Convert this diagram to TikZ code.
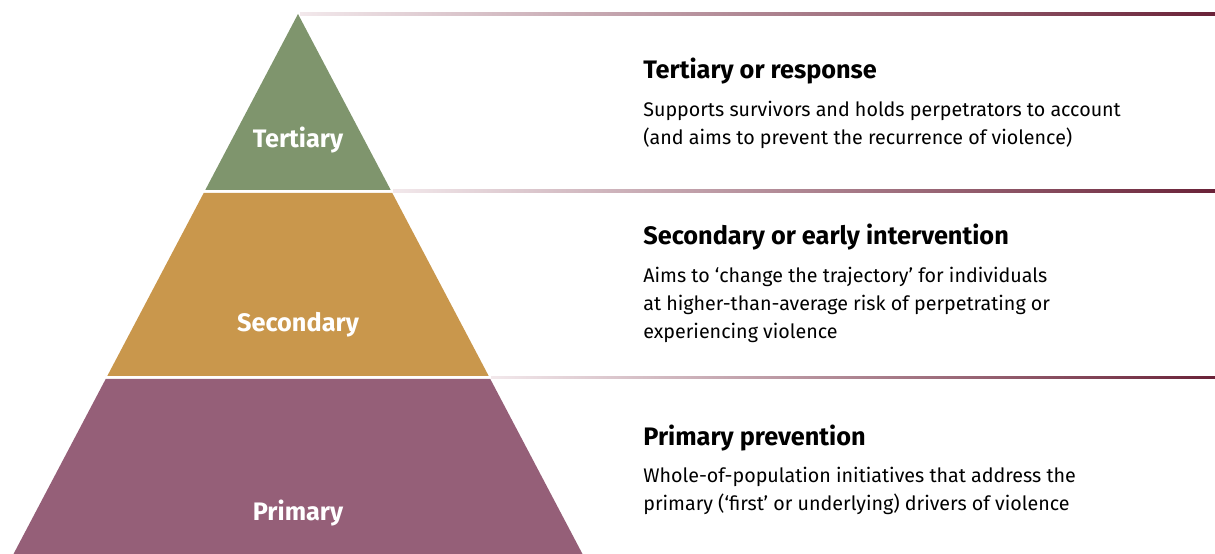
\documentclass[tikz,border=0pt]{standalone}
\usepackage{fontspec}
\setmainfont{Fira Sans}
\usetikzlibrary{calc,positioning}
\definecolor{tergreen}{HTML}{7F956D}
\definecolor{secgold}{HTML}{C9974C}
\definecolor{primauve}{HTML}{955F78}
\definecolor{rulelight}{HTML}{F2E8EB}
\definecolor{ruledark}{HTML}{6A2238}
\newcommand{\firstline}{\rule{0pt}{8pt}}
\tikzset{
  tier/.style={fill=#1,draw=none},
  tierlabel/.style={text=white,font=\fontsize{14.4}{16}\selectfont\bfseries,anchor=base},
  heading/.style={anchor=base west,inner sep=0pt,font=\fontsize{14.4}{16}\selectfont\bfseries},
  body/.style={anchor=north west,inner sep=0pt,align=left,
    font=\fontsize{11.2}{15.9}\selectfont},
  rule/.style={left color=rulelight,right color=ruledark,draw=none}
}
\begin{document}
\begin{tikzpicture}[x=0.02cm,y=-0.02cm]
\useasboundingbox (0,0) rectangle (1215,554);
% pyramid corners
\coordinate (apex) at (298,14);
\coordinate (bl) at (13.5,554);
\coordinate (br) at (582.5,554);
% tiers, with white gaps between
\fill[tier=tergreen] (apex) -- ($(apex)!176/540!(br)$) -- ($(apex)!176/540!(bl)$) -- cycle;
\fill[tier=secgold] ($(apex)!179/540!(bl)$) -- ($(apex)!179/540!(br)$)
  -- ($(apex)!362/540!(br)$) -- ($(apex)!362/540!(bl)$) -- cycle;
\fill[tier=primauve] ($(apex)!365/540!(bl)$) -- ($(apex)!365/540!(br)$)
  -- (br) -- (bl) -- cycle;
% rules to the right
\shade[rule] (300,13) rectangle (1215,15.5);
\shade[rule] (393,190) rectangle (1215,192.5);
\shade[rule] (491,376) rectangle (1215,378.5);
% tier labels
\node[tierlabel] (ter) at (298,148) {Tertiary};
\node[tierlabel] (sec) at (298,332) {Secondary};
\node[tierlabel] (pri) at (298,520) {Primary};
% descriptions
\node[heading] (terhead) at (643,79) {Tertiary or response};
\node[body] (terbody) at (643,101) {\firstline Supports survivors and holds perpetrators to account\\
  (and aims to prevent the recurrence of violence)};
\node[heading] (sechead) at (643,245) {Secondary or early intervention};
\node[body] (secbody) at (643,267) {\firstline Aims to ‘change the trajectory’ for individuals\\
  at higher-than-average risk of perpetrating or\\ experiencing violence};
\node[heading] (prihead) at (643,445) {Primary prevention};
\node[body] (pribody) at (643,467) {\firstline Whole-of-population initiatives that address the\\
  primary (‘first’ or underlying) drivers of violence};
\end{tikzpicture}
\end{document}
